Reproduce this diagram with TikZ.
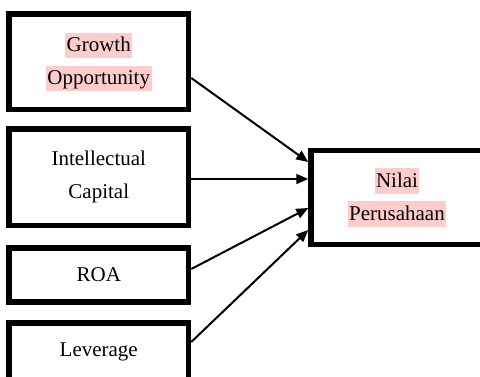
\documentclass[tikz,border=0pt]{standalone}
\usepackage{fontspec}
\setmainfont{Liberation Serif}
\usetikzlibrary{arrows.meta,calc}
\definecolor{hlpink}{RGB}{255,204,204}
\newcommand{\hlt}[1]{{\setlength{\fboxsep}{1.5pt}\colorbox{hlpink}{\rule[-0.2em]{0pt}{1.05em}#1}}}
\begin{document}
\begin{tikzpicture}[x=1pt,y=-1pt,
  varbox/.style={draw=black,line width=5.5pt,fill=white,minimum width=179.5pt,align=center,inner sep=0pt,
    font=\fontsize{21}{33}\selectfont},
  conn/.style={line width=2pt,-{Triangle[length=12pt,width=10pt]}}]
\clip (0,0) rectangle (480,377);
\useasboundingbox (0,0) rectangle (480,377);
\fill[white] (0,0) rectangle (480,377);
\node[varbox,minimum height=95.5pt] (g) at (98.75,61.75) {\hlt{Growth}\\\hlt{Opportunity}};
\node[varbox,minimum height=96.5pt] (ic) at (98.75,177.25) {Intellectual\\Capital};
\node[varbox,minimum height=54pt] (roa) at (98.75,275) {ROA};
\node[varbox,minimum height=58pt] (lev) at (98.75,352) {Leverage};
\node[varbox,minimum width=172pt,minimum height=94pt] (n) at (397,197.5) {\hlt{Nilai}\\\hlt{Perusahaan}};
\draw[conn] ($(g.east)+(0,16.25)$) -- ($(n.west)+(0,-35.5)$);
\draw[conn] ($(ic.east)+(0,1.75)$) -- ($(n.west)+(0,-18.5)$);
\draw[conn] ($(roa.east)+(0,-6)$) -- ($(n.west)+(0,10.5)$);
\draw[conn] ($(lev.east)+(0,-10)$) -- ($(n.west)+(0,32.5)$);
\end{tikzpicture}
\end{document}
